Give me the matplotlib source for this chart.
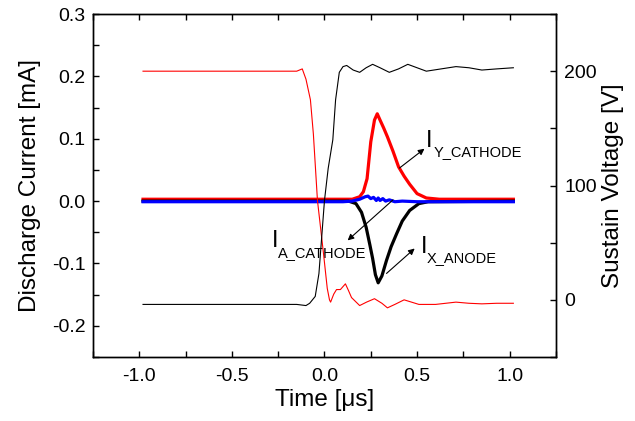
import matplotlib
matplotlib.use('Agg')
import matplotlib.pyplot as plt
from matplotlib.ticker import MultipleLocator, FormatStrFormatter

plt.rcParams['font.family'] = ['Liberation Sans', 'DejaVu Sans']

# discharge currents [mA] vs time [us]
t_y = [-0.98, 0.15, 0.19, 0.21, 0.23, 0.25, 0.27, 0.285, 0.30, 0.32, 0.34,
       0.37, 0.40, 0.43, 0.46, 0.50, 0.55, 0.62, 1.02]
i_y = [0.003, 0.003, 0.007, 0.015, 0.036, 0.095, 0.130, 0.140, 0.130, 0.117,
       0.103, 0.080, 0.055, 0.040, 0.027, 0.012, 0.005, 0.003, 0.003]

t_x = [-0.98, 0.13, 0.17, 0.20, 0.225, 0.245, 0.26, 0.275, 0.29, 0.31, 0.335,
       0.36, 0.39, 0.42, 0.46, 0.51, 0.56, 1.02]
i_x = [0.0, 0.0, -0.004, -0.018, -0.042, -0.070, -0.092, -0.118, -0.131,
       -0.120, -0.095, -0.073, -0.052, -0.032, -0.015, -0.004, -0.001, 0.0]

t_a = [-0.98, 0.10, 0.15, 0.19, 0.22, 0.235, 0.25, 0.265, 0.28, 0.29, 0.30,
       0.315, 0.33, 0.35, 0.38, 0.42, 0.50, 1.02]
i_a = [-0.001, -0.001, 0.0, 0.003, 0.007, 0.008, 0.004, 0.006, 0.001, 0.005,
       0.001, 0.004, 0.0, 0.002, -0.001, 0.0, -0.001, -0.001]

# sustain voltages [V]
t_vy = [-0.98, -0.15, -0.12, -0.10, -0.076, -0.06, -0.038, -0.005, 0.015,
        0.027, 0.033, 0.05, 0.065, 0.086, 0.113, 0.13, 0.146, 0.19, 0.227,
        0.27, 0.31, 0.34, 0.38, 0.43, 0.47, 0.51, 0.60, 0.71, 0.78, 0.85,
        0.93, 1.02]
v_y = [200, 200, 202, 193, 175, 145, 87, 40, 10, 0, -2, 5, 9, 9, 14, 8, 2,
       -5, -2, 1, -3, -7, -4, 0, -2, -4, -4, -2, -3, -3.5, -3, -3]

t_vx = [-0.98, -0.15, -0.10, -0.08, -0.065, -0.05, -0.03, -0.015, 0.0, 0.02,
        0.045, 0.06, 0.08, 0.10, 0.12, 0.155, 0.19, 0.225, 0.26, 0.30, 0.35,
        0.40, 0.45, 0.50, 0.55, 0.63, 0.71, 0.78, 0.85, 0.93, 1.02]
v_x = [-4, -4, -5, -3, 0, 3, 23, 55, 87, 115, 140, 175, 199, 204, 205, 201,
       199, 203, 206, 203, 199, 202, 206, 203, 200, 202, 204, 203, 201, 202,
       203]

fig = plt.figure(figsize=(6.35, 4.21), dpi=100)
ax = fig.add_axes([0.1465, 0.152, 0.729, 0.8147])
ax2 = ax.twinx()

ax.plot(t_y, i_y, color='#ff0000', lw=2.3)
ax.plot(t_x, i_x, color='black', lw=2.3)
ax.plot(t_a, i_a, color='#0000ff', lw=2.3)

ax2.plot(t_vy, v_y, color='#ff0000', lw=0.8)
ax2.plot(t_vx, v_x, color='black', lw=0.8)

ax.set_xlim(-1.25, 1.25)
ax.set_ylim(-0.25, 0.3)
ax2.set_ylim(-50, 250)

ax.xaxis.set_major_locator(MultipleLocator(0.5))
ax.xaxis.set_minor_locator(MultipleLocator(0.25))
ax.yaxis.set_major_locator(MultipleLocator(0.1))
ax.yaxis.set_minor_locator(MultipleLocator(0.05))
ax.xaxis.set_major_formatter(FormatStrFormatter('%.1f'))
ax.yaxis.set_major_formatter(FormatStrFormatter('%.1f'))
ax2.yaxis.set_major_locator(MultipleLocator(100))
ax2.yaxis.set_minor_locator(MultipleLocator(50))

ax.tick_params(which='both', direction='in', length=4.5, width=1,
               top=True, right=False, labelsize=14)
ax.tick_params(axis='x', pad=8)
ax.tick_params(axis='y', pad=5.5)
ax2.tick_params(which='both', direction='in', length=4.5, width=1,
                labelsize=14, pad=6)
for a in (ax, ax2):
    for s in a.spines.values():
        s.set_linewidth(1.0)

ax.set_xlabel('Time [\u03bcs]', fontsize=17.5, labelpad=3)
ax.set_ylabel('Discharge Current [mA]', fontsize=17.5, labelpad=8)
ax2.set_ylabel('Sustain Voltage [V]', fontsize=17.5, labelpad=4)

# labels with arrows
arrow = dict(arrowstyle='-|>', color='black', lw=0.8, mutation_scale=9,
             shrinkA=0, shrinkB=0)
ax.annotate('', xy=(0.54, 0.084), xytext=(0.405, 0.053), arrowprops=arrow)
ax.annotate('', xy=(0.125, -0.063), xytext=(0.37, 0.002), arrowprops=arrow)
ax.annotate('', xy=(0.487, -0.076), xytext=(0.335, -0.116), arrowprops=arrow)

ax.text(0.55, 0.087, 'I', fontsize=17, va='baseline')
ax.text(0.59, 0.073, 'Y_CATHODE', fontsize=10.5, va='baseline')
ax.text(-0.285, -0.074, 'I', fontsize=17, va='baseline')
ax.text(-0.25, -0.090, 'A_CATHODE', fontsize=10.5, va='baseline')
ax.text(0.52, -0.084, 'I', fontsize=17, va='baseline')
ax.text(0.55, -0.097, 'X_ANODE', fontsize=10.5, va='baseline')

fig.savefig('out.png', dpi=100)
